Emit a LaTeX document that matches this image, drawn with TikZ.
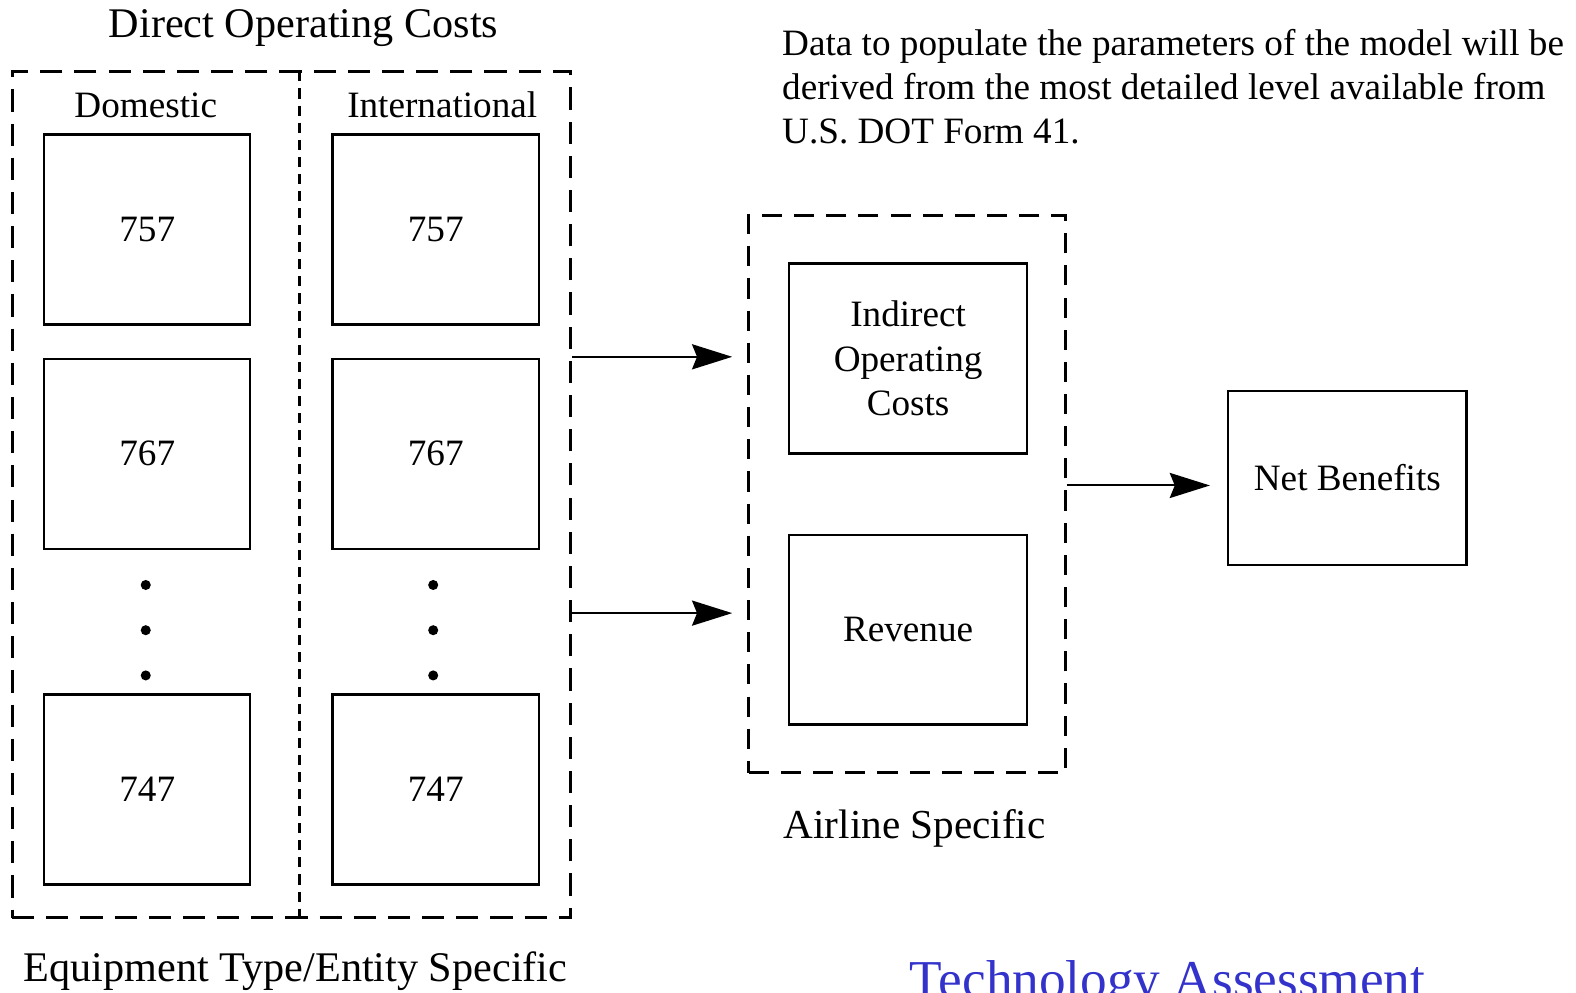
\documentclass[tikz,border=0pt]{standalone}
\usepackage{fontspec}
\setmainfont{Liberation Serif}
\usetikzlibrary{arrows.meta,calc}
\definecolor{taBlue}{RGB}{51,51,204}
\begin{document}
\begin{tikzpicture}[x=1bp,y=-1bp,
 box/.style={draw,line width=2.4bp,minimum width=205bp,minimum height=189bp,inner sep=0,font=\fontsize{37bp}{44bp}\selectfont,align=center},
 dashbox/.style={draw,line width=3bp,dash pattern=on 22bp off 12bp,inner sep=0},
 lbl/.style={font=\fontsize{37bp}{44bp}\selectfont,inner sep=0},
 big/.style={font=\fontsize{42bp}{50bp}\selectfont,inner sep=0},
 arr/.style={line width=2bp,-{Stealth[length=40bp,width=25bp,inset=5bp]}},
 bullet/.style={circle,fill,inner sep=0,minimum size=10bp}]
\useasboundingbox (0,0) rectangle (1568,987);

% left group
\node[dashbox,minimum width=556bp,minimum height=842bp] (outer) at (290,492) {};
\coordinate (mtop) at (298,71);
\coordinate (mbot) at (298,913);
\draw[line width=2.5bp,dash pattern=on 10bp off 7bp] (mtop) -- (mbot);

\node[big,anchor=base] (doc) at (302,37) {Direct Operating Costs};
\node[lbl,anchor=base] (dom) at (145,117) {Domestic};
\node[lbl,anchor=base] (intl) at (440,117) {International};

\node[box] (d757) at (146.5,228.5) {757};
\node[box] (d767) at (146.5,451.5) {767};
\node[box] (d747) at (146.5,785.5) {747};
\node[box] (i757) at (433.5,228.5) {757};
\node[box] (i767) at (433.5,451.5) {767};
\node[box] (i747) at (433.5,785.5) {747};

\node[bullet] (dd1) at (145,582) {};
\node[bullet] (dd2) at (145,627) {};
\node[bullet] (dd3) at (145,672) {};
\node[bullet] (id1) at (431,582) {};
\node[bullet] (id2) at (431,627) {};
\node[bullet] (id3) at (431,672) {};

\node[big,anchor=base] (equip) at (294,977) {Equipment Type/Entity Specific};

% note
\node[lbl,anchor=base west] (n1) at (778,55) {Data to populate the parameters of the model will be};
\node[lbl,anchor=base west] (n2) at (778,99) {derived from the most detailed level available from};
\node[lbl,anchor=base west] (n3) at (778,143) {U.S. DOT Form 41.};

% airline group
\node[dashbox,dash pattern=on 20bp off 12bp,minimum width=315bp,minimum height=555bp] (airline) at (902.5,491.5) {};
\node[box,minimum width=237bp] (ioc) at (903.5,356.5) {Indirect\\Operating\\Costs};
\node[box,minimum width=237bp] (rev) at (903.5,626.5) {Revenue};
\node[font=\fontsize{41bp}{48bp}\selectfont,inner sep=0,anchor=base] (als) at (910,834) {Airline Specific};

\node[box,minimum width=237bp,minimum height=173bp] (net) at (1340.5,475.5) {Net Benefits};

% arrows
\draw[arr,shorten >=15bp] (outer.east |- 0,355) -- (airline.west |- 0,355);
\draw[arr,shorten >=15bp] (outer.east |- 0,610) -- (airline.west |- 0,610);
\draw[arr,shorten >=17bp] (airline.east |- 0,483) -- (net.west |- 0,483);

\node[font=\fontsize{53bp}{60bp}\selectfont,text=taBlue,inner sep=0,anchor=base west] (ta) at (905,992) {Technology Assessment};
\end{tikzpicture}
\end{document}
